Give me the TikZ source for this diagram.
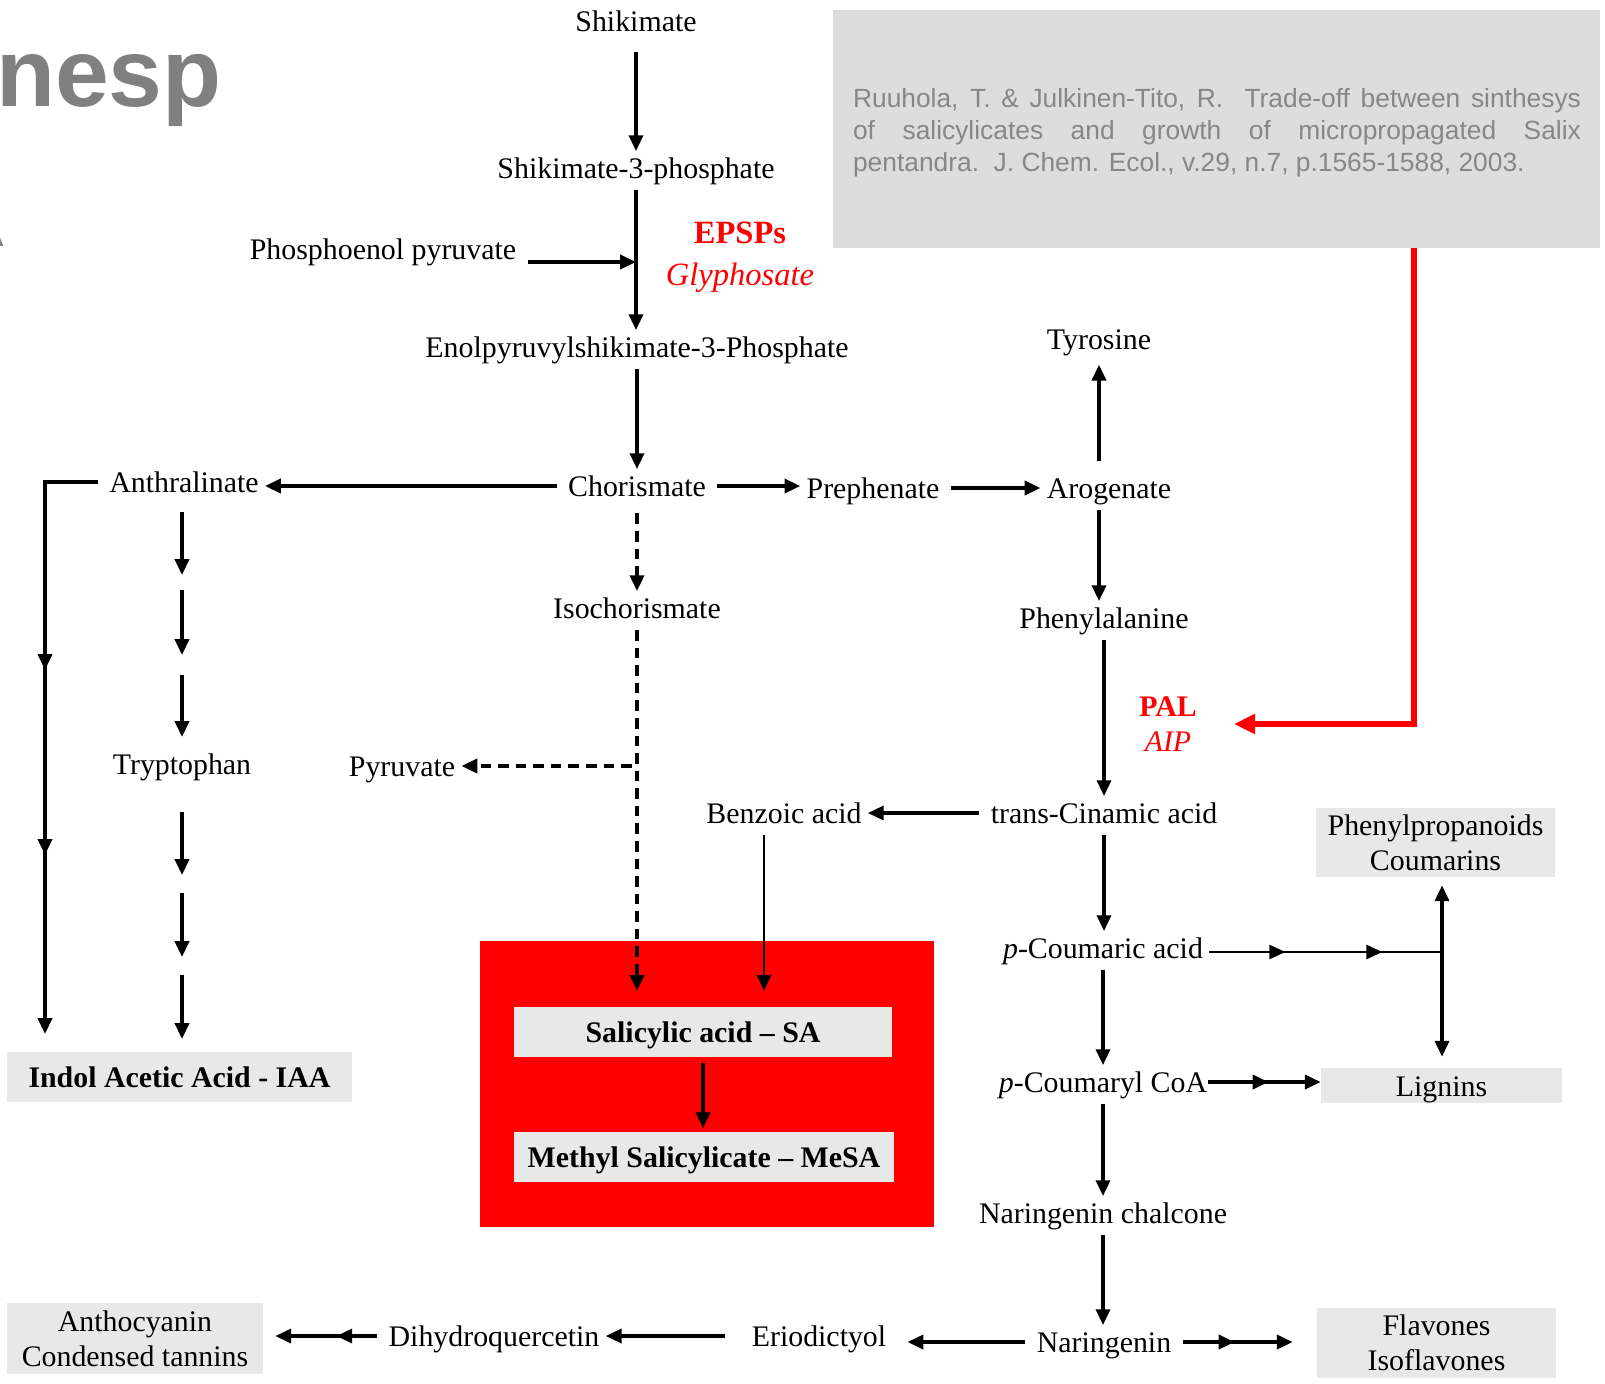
\documentclass[tikz,border=0pt]{standalone}
\usepackage{fontspec}
\setmainfont{Liberation Serif}
\newfontfamily\citesans{Liberation Sans}
\usetikzlibrary{positioning, arrows.meta, calc, decorations.markings}
\definecolor{boxgray}{RGB}{232,232,232}
\definecolor{refgray}{RGB}{221,221,221}
\definecolor{citegray}{RGB}{135,135,135}
\definecolor{nespgray}{RGB}{128,128,128}
\definecolor{pathred}{RGB}{255,0,0}
\newcommand\lblfont{\fontsize{17}{20}\selectfont}
\newcommand\enzfont{\fontsize{18.5}{24}\selectfont}
\newcommand\palfont{\fontsize{17}{19.5}\selectfont}
\newcommand\citefont{\citesans\fontsize{15}{18.2}\selectfont}
\newcommand\nespfont{\citesans\bfseries\fontsize{55}{60}\selectfont}

\begin{document}
\begin{tikzpicture}[
    x=0.02cm, y=-0.02cm,
    lbl/.style={font=\lblfont, inner xsep=0.12cm, inner ysep=0.04cm, text height=14pt, text depth=2.6pt},
    box/.style={fill=boxgray, font=\lblfont, inner sep=0pt, align=center},
    onebox/.style={box, text height=14pt, text depth=2pt},
    boldbox/.style={onebox, font=\lblfont\bfseries},
    enz/.style={text=pathred, align=center, inner sep=0pt},
    arrow/.style={-{Triangle[length=9pt,width=8pt]}, line width=1.9pt, shorten <=3pt},
    thinarrow/.style={arrow, line width=1.3pt},
    dasharrow/.style={arrow, line width=2pt, dash pattern=on 6pt off 4pt},
    dblarrow/.style={{Triangle[length=9pt,width=8pt]}-{Triangle[length=9pt,width=8pt]}, line width=1.9pt},
    redarrow/.style={-{Triangle[length=12pt,width=11pt]}, line width=2.9pt, draw=pathred},
    midtip/.style={postaction={decorate}, decoration={markings, mark=at position #1 with {\arrow{Triangle[length=9pt,width=8pt]}}}},
    midtips/.style 2 args={postaction={decorate}, decoration={markings,
        mark=at position #1 with {\arrow{Triangle[length=9pt,width=8pt]}},
        mark=at position #2 with {\arrow{Triangle[length=9pt,width=8pt]}}}},
]
\useasboundingbox (0,0) rectangle (1605,1383);

% Slide remains
\node[font=\nespfont, text=nespgray, anchor=base east, inner sep=0pt] (nesp) at (222,106) {nesp};
\node[font=\citesans\fontsize{20}{20}\selectfont, text=nespgray, anchor=base east, inner sep=0pt] (edge) at (4,246) {A};

% Reference
\node[fill=refgray, minimum width=15.34cm, minimum height=4.76cm, inner sep=0pt] (refbox) at (1216.5,129) {};
\node[text width=14.56cm, inner sep=0pt, align=justify, font=\citefont, text=citegray] (cite) at (1217,133)
  {Ruuhola, T. \& Julkinen-Tito, R.\ \ Trade-off between sinthesys\linebreak
   of salicylicates and growth of micropropagated Salix\linebreak
   pentandra.\ \ J. Chem. Ecol., v.29, n.7, p.1565-1588, 2003.};

% Shikimate pathway
\node[lbl] (shk) at (636,21.5) {Shikimate};
\node[lbl] (s3p) at (636,168) {Shikimate-3-phosphate};
\node[lbl] (pep) at (383,249) {Phosphoenol pyruvate};
\node[lbl] (epsp) at (637,347) {Enolpyruvylshikimate-3-Phosphate};
\node[enz, font=\enzfont] (epsps) at (740,257) {\textbf{EPSPs}\\\textit{Glyphosate}};
\node[lbl] (cho) at (637,486) {Chorismate};
\node[lbl] (ant) at (184,482) {Anthralinate};
\node[lbl] (pre) at (873,488) {Prephenate};
\node[lbl] (aro) at (1109,488) {Arogenate};
\node[lbl] (tyr) at (1099,339) {Tyrosine};
\node[lbl] (phe) at (1104,618) {Phenylalanine};
\node[lbl] (iso) at (637,608) {Isochorismate};
\node[lbl] (pyr) at (402,766) {Pyruvate};
\node[lbl] (trp) at (182,764) {Tryptophan};
\node[enz, font=\palfont] (pal) at (1168,724) {\textbf{PAL}\\\textit{AIP}};
\node[lbl] (cin) at (1104,813) {trans-Cinamic acid};
\node[lbl] (ben) at (784,813) {Benzoic acid};

% Salicylates
\node[fill=pathred, minimum width=9.08cm, minimum height=5.72cm, inner sep=0pt] (salbox) at (707,1084) {};
\node[boldbox, minimum width=7.56cm, minimum height=1.0cm] (sa) at (703,1032) {Salicylic acid – SA};
\node[boldbox, minimum width=7.6cm, minimum height=1.0cm] (mesa) at (704,1157) {Methyl Salicylicate – MeSA};
\node[boldbox, minimum width=6.9cm, minimum height=1.0cm] (iaa) at (179.5,1077) {Indol Acetic Acid - IAA};

% Phenylpropanoids
\node[lbl] (cou) at (1103,948) {\textit{p}-Coumaric acid};
\node[lbl] (coa) at (1103,1082) {\textit{p}-Coumaryl CoA};
\node[lbl] (nch) at (1103,1213) {Naringenin chalcone};
\node[lbl] (nar) at (1104,1342) {Naringenin};
\node[lbl] (eri) at (819,1336) {Eriodictyol};
\node[lbl] (dhq) at (494,1336) {Dihydroquercetin};
\node[box, minimum width=4.78cm, minimum height=1.38cm] (ppc) at (1435.5,842.5) {Phenylpropanoids\\Coumarins};
\node[onebox, minimum width=4.82cm, minimum height=0.7cm] (lig) at (1441.5,1085.5) {Lignins};
\node[box, minimum width=4.78cm, minimum height=1.4cm] (flv) at (1436.5,1343) {Flavones\\Isoflavones};
\node[box, minimum width=5.12cm, minimum height=1.42cm] (ath) at (135,1338.5) {Anthocyanin\\Condensed tannins};

% Helper points
\coordinate (pepj) at (s3p.south |- 0,262);
\coordinate (antL) at (45,482);
\coordinate (antE) at (45,1034);
\coordinate (benx) at (764,0);
\coordinate (redx) at (1414,0);
\coordinate (junc) at (1442,952);

% Arrows
\draw[arrow, shorten <=8pt] (shk) -- (s3p);
\draw[arrow] (s3p.south) -- (s3p.south |- epsp.north);
\draw[arrow] (pep.east |- pepj) -- (pepj);
\draw[arrow] (epsp.south) -- (epsp.south |- cho.north);
\draw[arrow] (cho.west) -- (cho.west -| ant.east);
\draw[arrow] (cho.east) -- (cho.east -| pre.west);
\draw[arrow] (pre.east) -- (pre.east -| aro.west);
\draw[arrow, shorten <=6pt, shorten >=5pt] (aro.north -| tyr) -- (tyr.south);
\draw[arrow] (aro.south -| tyr) -- (phe.north -| tyr);
\draw[arrow] (phe.south) -- (phe.south |- cin.north);
\draw[arrow, midtips={4.92cm}{8.62cm}] (ant.west) -- (antL) -- (antE);
\foreach \ys/\ye in {507/575, 585/655, 670/737, 807/875, 888/957, 970/1039}
  \draw[arrow] (trp |- 0,\ys) -- (trp |- 0,\ye);
\draw[dasharrow, shorten <=6pt] (cho) -- (iso);
\draw[dasharrow, shorten >=9pt] (iso.south) -- (iso.south |- sa.north);
\draw[dasharrow] (iso.south |- pyr) -- (pyr.east);
\draw[arrow] (cin.west) -- (ben.east);
\draw[thinarrow, shorten >=9pt] (ben.south -| benx) -- (sa.north -| benx);
\draw[arrow, shorten >=2pt] (sa.south) -- (sa.south |- mesa.north);
\draw[redarrow] (refbox.south -| redx) |- ([xshift=0.74cm]pal.east);
\draw[arrow] (cin.south) -- (cin.south |- cou.north);
\draw[line width=1.2pt, midtips={1.52cm}{3.46cm}] (cou.east |- junc) -- (junc);
\draw[dblarrow, shorten <=0.16cm, shorten >=0.22cm] (ppc.south -| junc) -- (lig.north -| junc);
\draw[arrow] (cou.south) -- (cou.south |- coa.north);
\draw[arrow, midtip=1.1cm, shorten <=-3pt] (coa.east) -- (coa.east -| lig.west);
\draw[arrow] (coa.south) -- (coa.south |- nch.north);
\draw[arrow] (nch.south) -- (nch.south |- nar.north);
\draw[arrow, midtip=1.14cm, shorten >=0.48cm] (nar.east) -- (nar.east -| flv.west);
\draw[arrow, shorten >=0.3cm] (nar.west) -- (nar.west -| eri.east);
\draw[arrow, shorten <=0.4cm] (eri.west) -- (eri.west -| dhq.east);
\draw[arrow, midtip=0.92cm, shorten >=0.24cm] (dhq.west) -- (dhq.west -| ath.east);

\end{tikzpicture}
\end{document}
